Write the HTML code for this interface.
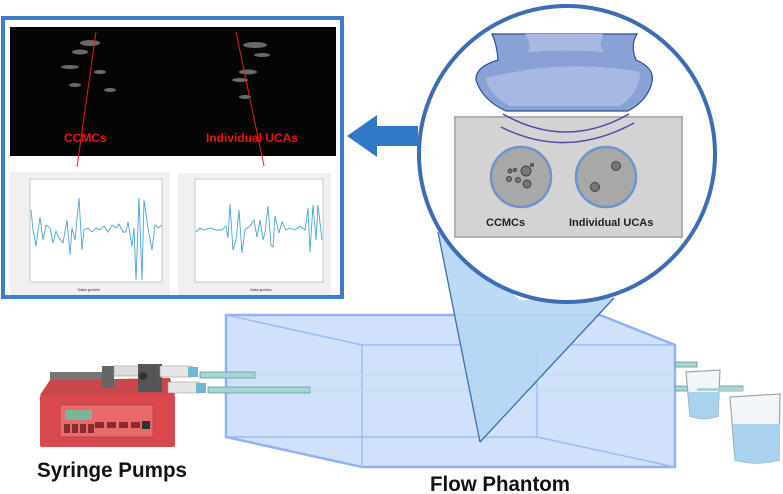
<!DOCTYPE html>
<html><head><meta charset="utf-8"><style>
html,body{margin:0;padding:0;background:#fff;}
svg{display:block;}
text{font-family:"Liberation Sans",sans-serif;font-weight:bold;}
</style></head><body>
<svg width="783" height="494" viewBox="0 0 783 494" xmlns="http://www.w3.org/2000/svg">
<!-- Flow phantom box -->
<g stroke="#8fb3f5" stroke-width="2.5" fill="#c9dcfb" fill-opacity="0.85">
<polygon points="226,315 600,315 675,345 675,467 362,467 226,437"/>
</g>
<g stroke="#9dbdf6" stroke-width="1.5" fill="none">
<polyline points="226,315 362,345 675,345"/>
<line x1="362" y1="345" x2="362" y2="467"/>
<line x1="226" y1="437" x2="537" y2="437"/>
<line x1="537" y1="437" x2="537" y2="345"/>
<line x1="537" y1="437" x2="675" y2="467"/>
</g>
<!-- tubes -->
<rect x="200" y="372" width="55" height="6" fill="#a8d4d4" stroke="#5e9a9a" stroke-width="0.8"/>
<rect x="208" y="387" width="102" height="6" fill="#a8d4d4" stroke="#5e9a9a" stroke-width="0.8"/>
<rect x="255" y="373" width="420" height="4" fill="#b9e0e0" opacity="0.5"/>
<rect x="310" y="388" width="365" height="4" fill="#b9e0e0" opacity="0.5"/>
<!-- Cone over box -->
<polygon points="438,232 480,442 614,298 520,300" fill="#b5d6f4" fill-opacity="0.9"/>
<line x1="438" y1="232" x2="480" y2="442" stroke="#3c6db5" stroke-width="1.3"/>
<line x1="614" y1="298" x2="480" y2="442" stroke="#3c6db5" stroke-width="1.3"/>
<rect x="675" y="362" width="22" height="5" fill="#a8d4d4" stroke="#5e9a9a" stroke-width="0.8"/>
<rect x="675" y="386" width="68" height="5" fill="#a8d4d4" stroke="#5e9a9a" stroke-width="0.8"/>
<!-- beakers -->
<path d="M686,372 L720,370 L718,416 Q704,421 690,416 Z" fill="#f2f5f8" stroke="#9aa" stroke-width="1.2"/>
<path d="M688,392 L719,392 L718,416 Q704,421 690,416 Z" fill="#a9d2ef"/>
<path d="M730,397 L780,394 L779,460 Q756,466 735,460 Z" fill="#f2f5f8" stroke="#9aa" stroke-width="1.2"/>
<path d="M733,424 L780,424 L779,460 Q756,466 735,460 Z" fill="#a9d2ef"/>
<rect x="697" y="388" width="46" height="3" fill="#a8d4d4"/>
<!-- syringe pump -->
<polygon points="50,380 170,378 175,395 40,395" fill="#c9464a"/>
<rect x="40" y="395" width="135" height="52" rx="2" fill="#d9484d"/>
<rect x="60" y="405" width="93" height="32" fill="#e86a6a" stroke="#b84040" stroke-width="0.8"/>
<rect x="65" y="410" width="27" height="10" fill="#7ab59a"/>
<rect x="64" y="424" width="6" height="9" fill="#8a2a2e"/><rect x="72" y="424" width="6" height="9" fill="#8a2a2e"/><rect x="80" y="424" width="6" height="9" fill="#8a2a2e"/><rect x="88" y="424" width="6" height="9" fill="#8a2a2e"/>
<rect x="95" y="422" width="9" height="6" fill="#8a2a2e"/><rect x="107" y="422" width="9" height="6" fill="#8a2a2e"/><rect x="119" y="422" width="9" height="6" fill="#8a2a2e"/><rect x="131" y="422" width="9" height="6" fill="#8a2a2e"/><rect x="142" y="421" width="8" height="8" fill="#333"/>
<rect x="50" y="372" width="60" height="8" fill="#777"/>
<rect x="102" y="366" width="12" height="22" fill="#666"/>
<rect x="114" y="366" width="30" height="10" fill="#ddd" stroke="#999" stroke-width="0.6"/>
<rect x="138" y="364" width="24" height="28" fill="#555"/>
<circle cx="143" cy="376" r="4" fill="#333"/>
<rect x="160" y="366" width="32" height="11" fill="#e6e6e6" stroke="#999" stroke-width="0.6"/>
<rect x="168" y="382" width="32" height="11" fill="#e6e6e6" stroke="#999" stroke-width="0.6"/>
<rect x="188" y="367" width="10" height="10" fill="#74b6cf"/>
<rect x="196" y="383" width="10" height="10" fill="#74b6cf"/>
<!-- labels bottom -->
<text x="37" y="477" font-size="21" fill="#111" textLength="150" lengthAdjust="spacingAndGlyphs">Syringe Pumps</text>
<text x="430" y="491" font-size="21" fill="#111" textLength="140" lengthAdjust="spacingAndGlyphs">Flow Phantom</text>
<!-- Magnifier circle -->
<circle cx="567" cy="154" r="148" fill="#fff" stroke="#3c6db5" stroke-width="4"/>
<rect x="455" y="117" width="227" height="120" fill="#d3d3d3" stroke="#b0b0b0" stroke-width="2"/>
<!-- transducer -->
<path d="M492,34 L637,34 Q630,45 636,60 Q655,68 652,82 Q648,100 628,111 L506,111 Q482,100 476,80 Q475,67 498,60 Q497,45 492,34 Z" fill="#8aa1d6" stroke="#2e4c96" stroke-width="1.2"/>
<path d="M486,78 Q565,58 640,72 Q640,92 620,106 L510,106 Q488,94 486,78 Z" fill="#a7b9e2"/>
<path d="M525,34 L603,34 Q598,45 604,52 Q565,49 528,52 Q532,45 525,34 Z" fill="#a7b9e2"/>
<path d="M503,114 Q566,150 629,114" fill="none" stroke="#5a4aa6" stroke-width="1.5"/>
<path d="M501,127 Q566,160 634,123" fill="none" stroke="#5a4aa6" stroke-width="1.5"/>
<circle cx="521" cy="177" r="30" fill="#a8a8a8" stroke="#6f93cc" stroke-width="2.5"/>
<circle cx="606" cy="177" r="30" fill="#a8a8a8" stroke="#6f93cc" stroke-width="2.5"/>
<g fill="#777" stroke="#444" stroke-width="1"><circle cx="526" cy="171" r="5"/><circle cx="527" cy="184" r="4"/><circle cx="509" cy="179" r="2.5"/><circle cx="518" cy="180" r="2.5"/><circle cx="510" cy="171" r="2"/><circle cx="515" cy="170" r="1.5"/><circle cx="532" cy="165" r="1.5"/><circle cx="616" cy="166" r="4.5"/><circle cx="595" cy="187" r="4.5"/></g>
<text x="486" y="226" font-size="11" fill="#222">CCMCs</text>
<text x="569" y="226" font-size="11" fill="#222">Individual UCAs</text>
<!-- arrow -->
<polygon points="347,136 377,115 377,126 418,126 418,146 377,146 377,157" fill="#3178c6"/>
<!-- left panel -->
<rect x="3" y="18" width="339" height="279" fill="#fff" stroke="#3c7ec7" stroke-width="4"/>
<rect x="10" y="27" width="326" height="129" fill="#050505"/>
<g fill="#bbb" opacity="0.55">
<ellipse cx="90" cy="43" rx="10" ry="3"/><ellipse cx="80" cy="52" rx="8" ry="2.5"/><ellipse cx="70" cy="67" rx="9" ry="2"/><ellipse cx="100" cy="72" rx="6" ry="2"/><ellipse cx="110" cy="90" rx="6" ry="2"/><ellipse cx="75" cy="85" rx="6" ry="2"/>
<ellipse cx="255" cy="45" rx="12" ry="3"/><ellipse cx="248" cy="72" rx="9" ry="2.5"/><ellipse cx="240" cy="80" rx="8" ry="2"/><ellipse cx="245" cy="97" rx="6" ry="2"/><ellipse cx="262" cy="55" rx="8" ry="2"/>
</g>
<line x1="96" y1="32" x2="77" y2="167" stroke="#e02020" stroke-width="1"/>
<line x1="236" y1="32" x2="264" y2="166" stroke="#e02020" stroke-width="1"/>
<text x="64" y="142" font-size="12" fill="#e11">CCMCs</text>
<text x="206" y="142" font-size="12" fill="#e11">Individual UCAs</text>
<rect x="10" y="172" width="160" height="123" fill="#f0f0f0"/>
<rect x="30" y="179" width="132" height="103" fill="#fff" stroke="#aaa" stroke-width="0.6"/>
<rect x="178" y="173" width="153" height="122" fill="#f0f0f0"/>
<rect x="195" y="179" width="128" height="103" fill="#fff" stroke="#aaa" stroke-width="0.6"/>
<polyline fill="none" stroke="#4aa3d8" stroke-width="0.9" points="31,210 33,230 36,246 40,217 43,240 46,225 50,228 53,243 56,231 59,238 63,243 67,220 70,255 72,228 75,240 79,198 82,250 84,230 88,228 92,232 96,228 100,230 104,226 108,232 112,225 116,228 119,224 123,232 126,232 128,222 132,246 134,228 136,280 139,198 142,280 144,200 148,228 152,250 155,225 158,228 162,225"/>
<polyline fill="none" stroke="#4aa3d8" stroke-width="0.9" points="196,232 200,228 204,230 210,228 216,230 222,230 226,226 228,238 230,204 233,250 236,240 239,210 242,253 245,230 250,226 254,220 257,237 260,220 263,240 265,233 268,206 271,245 273,247 275,216 279,233 282,222 286,230 290,228 295,230 300,226 305,230 308,208 310,252 313,205 316,240 318,205 322,240"/>
<text x="78" y="291" font-size="4" fill="#666" font-weight="normal">Data points</text>
<text x="250" y="291" font-size="4" fill="#666" font-weight="normal">Data points</text>
</svg>
</body></html>
